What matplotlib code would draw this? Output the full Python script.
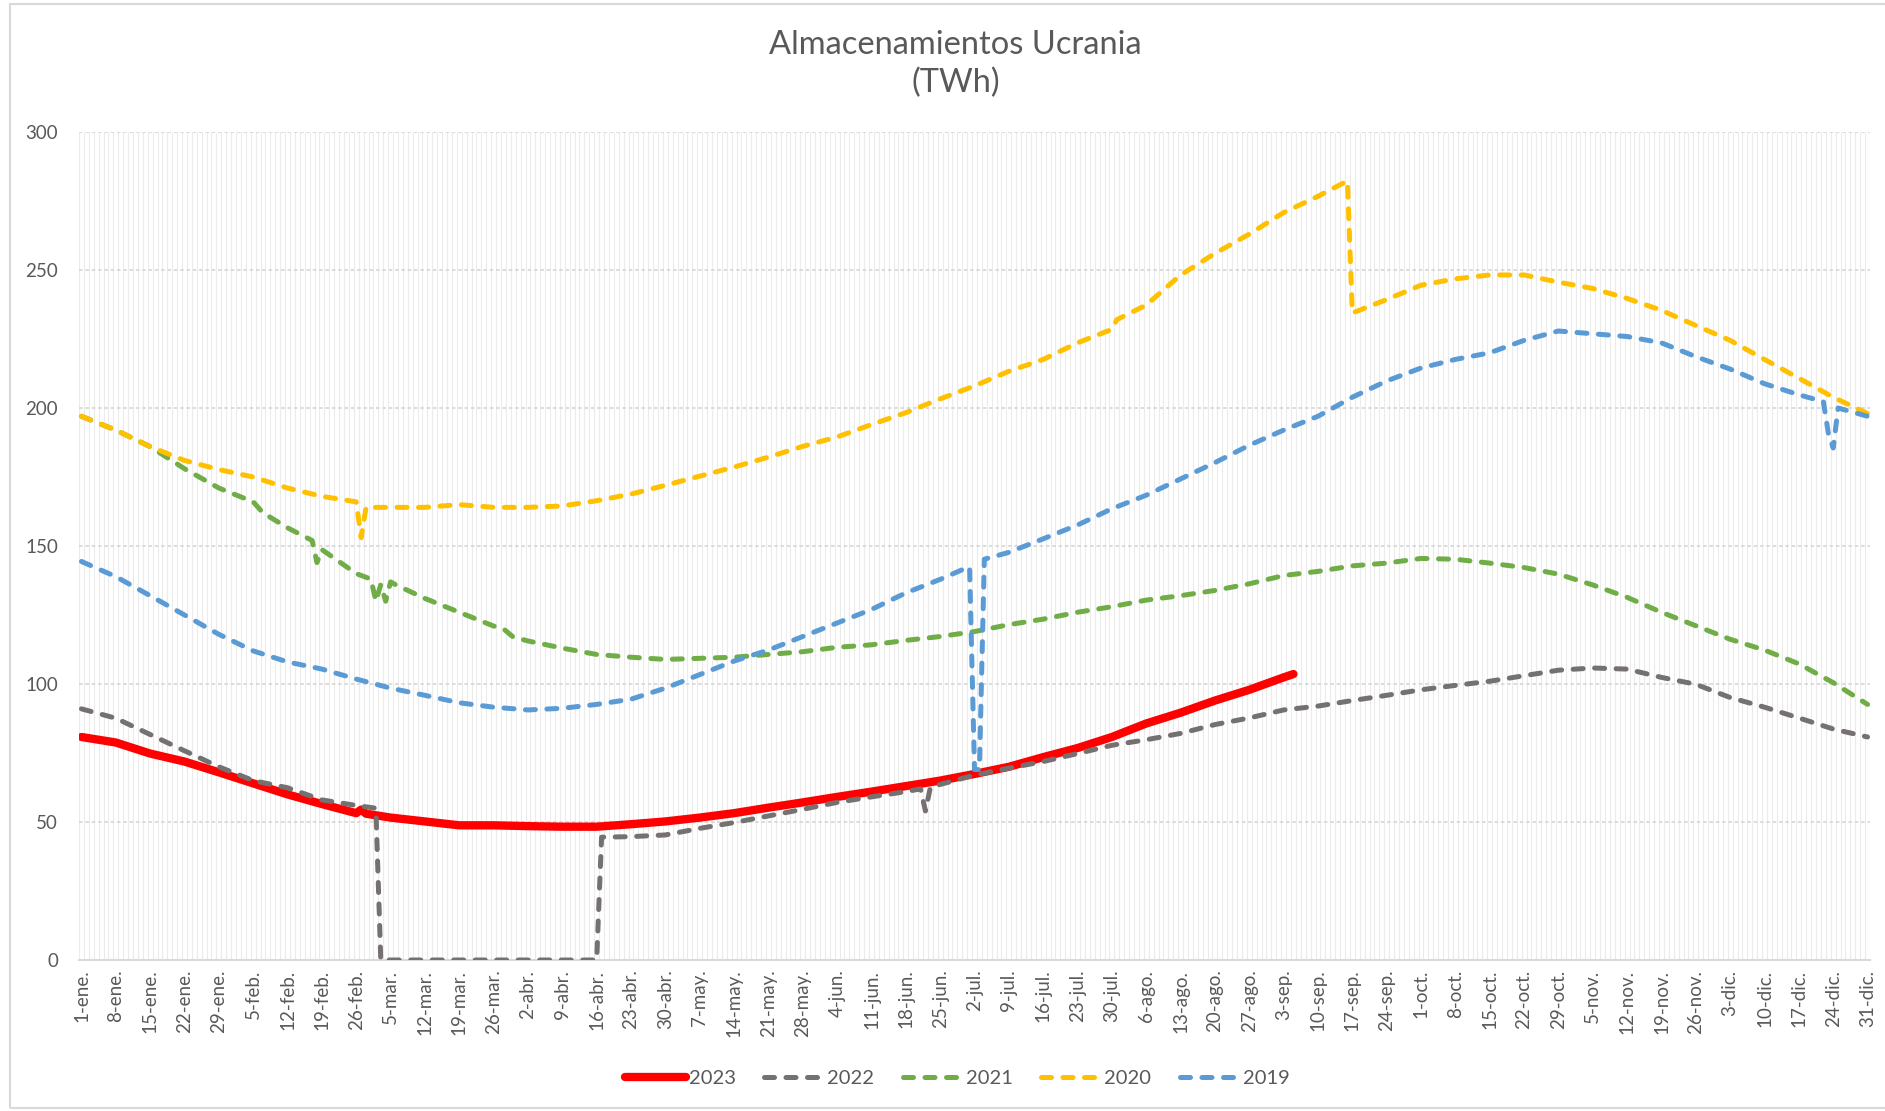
import numpy as np
import matplotlib.pyplot as plt
from matplotlib.patches import Rectangle

plt.rcParams['font.family'] = ['Lato', 'DejaVu Sans']

# x = day of year (0 = 1-ene.), values in TWh
DAYS_2023 = [0, 7, 14, 21, 28, 35, 42, 49, 56, 57, 58, 63, 70, 77, 84, 91, 98, 105, 112, 119,
             126, 133, 140, 147, 154, 161, 168, 175, 182, 189, 196, 203, 210, 217, 224, 231,
             238, 245, 247]
TWH_2023 = [80.8, 78.8, 74.8, 71.9, 68.0, 64.0, 60.0, 56.5, 53.2, 54.5, 53.0, 51.6, 50.2, 48.8,
            48.8, 48.5, 48.3, 48.3, 49.2, 50.2, 51.6, 53.2, 55.2, 57.1, 59.1, 61.0, 63.0, 65.0,
            67.4, 70.0, 73.5, 76.8, 80.8, 85.7, 89.6, 94.0, 97.9, 102.4, 103.6]

DAYS_2022 = [0, 7, 14, 21, 28, 35, 42, 49, 56, 60, 61, 105, 106, 112, 119, 126, 133, 140, 147,
             154, 161, 168, 171, 172, 173, 175, 182, 189, 196, 203, 210, 217, 224, 231, 238,
             245, 252, 259, 266, 273, 280, 287, 294, 301, 308, 315, 322, 329, 336, 343, 350,
             357, 364]
TWH_2022 = [91.0, 87.6, 81.7, 75.8, 70.0, 65.0, 62.4, 58.0, 56.0, 55.0, 0, 0, 44.5, 44.7, 45.3,
            47.7, 49.8, 52.2, 54.6, 57.1, 59.1, 61.0, 62.0, 54.0, 62.5, 63.6, 67.0, 69.5, 71.9,
            74.8, 77.8, 79.8, 82.1, 85.3, 87.7, 90.6, 92.0, 94.0, 95.9, 97.9, 99.5, 101.0,
            103.0, 105.0, 105.8, 105.4, 102.4, 99.9, 95.1, 91.6, 87.7, 83.7, 80.8]

DAYS_2021 = [0, 7, 14, 21, 28, 35, 37, 42, 47, 48, 49, 56, 59, 60, 61, 62, 63, 64, 70, 77, 84,
             86, 88, 91, 98, 105, 112, 119, 126, 133, 140, 147, 154, 161, 168, 175, 182, 189,
             196, 203, 210, 217, 224, 231, 238, 245, 252, 259, 266, 273, 280, 287, 294, 301,
             308, 315, 322, 329, 336, 343, 350, 357, 364]
TWH_2021 = [197.0, 192.0, 186.0, 178.0, 171.0, 166.0, 162.0, 156.6, 152.0, 144.0, 148.7, 140.0,
            138.0, 130.0, 136.0, 130.0, 137.0, 136.0, 131.0, 126.0, 121.0, 120.0, 117.0, 115.6,
            113.0, 110.7, 109.7, 108.9, 109.3, 109.7, 110.7, 111.7, 113.3, 114.2, 115.8, 117.2,
            119.0, 121.5, 123.5, 126.0, 128.0, 130.4, 132.0, 133.9, 136.3, 139.3, 140.8, 142.8,
            143.8, 145.5, 145.2, 143.8, 142.2, 139.8, 135.9, 131.4, 126.0, 121.1, 116.2, 112.3,
            107.3, 100.5, 92.6]

DAYS_2020 = [0, 7, 14, 21, 28, 35, 42, 49, 56, 57, 58, 63, 70, 77, 84, 91, 98, 105, 112, 119,
             126, 133, 140, 147, 154, 161, 168, 175, 182, 189, 196, 203, 210, 211, 217, 224,
             231, 238, 245, 252, 258, 259, 266, 273, 280, 287, 294, 301, 308, 315, 322, 329,
             336, 343, 350, 357, 364]
TWH_2020 = [197.0, 192.0, 186.0, 181.0, 177.7, 175.0, 171.0, 168.0, 166.0, 153.0, 164.0, 164.0,
            164.0, 165.0, 164.0, 164.0, 164.5, 166.4, 168.8, 172.0, 175.3, 178.6, 182.2, 186.1,
            189.5, 194.0, 198.3, 203.3, 208.0, 213.3, 217.6, 223.6, 228.5, 232.0, 237.3, 248.2,
            256.0, 263.0, 270.8, 276.7, 282.3, 234.4, 239.3, 244.5, 246.8, 248.2, 248.2, 245.6,
            243.3, 239.7, 235.4, 229.9, 224.5, 217.6, 210.8, 203.9, 198.0]

DAYS_2019 = [0, 7, 14, 21, 28, 35, 42, 49, 56, 63, 70, 77, 84, 91, 98, 105, 112, 119, 126,
             133, 140, 147, 154, 161, 168, 175, 180, 181, 182, 183, 184, 189, 196, 203, 210,
             217, 224, 231, 238, 245, 252, 259, 266, 273, 280, 287, 294, 301, 308, 315, 322,
             329, 336, 343, 350, 355, 356, 357, 358, 364]
TWH_2019 = [144.4, 138.9, 132.0, 125.0, 118.0, 112.0, 108.0, 105.4, 101.8, 98.5, 95.9, 93.2,
            91.6, 90.6, 91.2, 92.6, 94.5, 98.5, 103.4, 108.3, 112.3, 117.2, 122.1, 127.0, 133.0,
            137.9, 141.8, 142.4, 69.0, 69.0, 145.2, 147.7, 152.6, 157.6, 163.5, 168.4, 174.3,
            180.2, 186.5, 192.0, 197.0, 203.9, 209.8, 214.5, 217.6, 220.0, 224.5, 227.9, 226.9,
            225.9, 223.6, 218.6, 214.1, 208.8, 204.8, 202.3, 191.0, 185.5, 200.0, 197.0]

TICK_LABELS = ["1-ene.", "8-ene.", "15-ene.", "22-ene.", "29-ene.", "5-feb.", "12-feb.",
               "19-feb.", "26-feb.", "5-mar.", "12-mar.", "19-mar.", "26-mar.", "2-abr.",
               "9-abr.", "16-abr.", "23-abr.", "30-abr.", "7-may.", "14-may.", "21-may.",
               "28-may.", "4-jun.", "11-jun.", "18-jun.", "25-jun.", "2-jul.", "9-jul.",
               "16-jul.", "23-jul.", "30-jul.", "6-ago.", "13-ago.", "20-ago.", "27-ago.",
               "3-sep.", "10-sep.", "17-sep.", "24-sep.", "1-oct.", "8-oct.", "15-oct.",
               "22-oct.", "29-oct.", "5-nov.", "12-nov.", "19-nov.", "26-nov.", "3-dic.",
               "10-dic.", "17-dic.", "24-dic.", "31-dic."]
N_DAYS = 365

TXT = "#595959"
GRID = "#D9D9D9"

fig = plt.figure(figsize=(18.85, 11.11), dpi=100)
ax = fig.add_axes([79/1885, 1 - 960/1111, (1870 - 79)/1885, (960 - 132)/1111])

# excel-style daily category gridlines
ax.vlines(np.arange(N_DAYS + 1) - 0.5, 0, 300, color="#EBEBEB", lw=0.75, zorder=0)
ax.set_axisbelow(True)
ax.yaxis.grid(True, color=GRID, linestyle=(0, (2, 1.5)), lw=1.3)

dash = (2.0, 2.3)
ax.plot(DAYS_2023, TWH_2023, color="#FF0000", lw=6, solid_capstyle="round",
        solid_joinstyle="round", label="2023", zorder=3)
series = [(DAYS_2022, TWH_2022, "#767171", "2022"),
          (DAYS_2021, TWH_2021, "#70AD47", "2021"),
          (DAYS_2020, TWH_2020, "#FFC000", "2020"),
          (DAYS_2019, TWH_2019, "#5B9BD5", "2019")]
for i, (d, v, c, lab) in enumerate(series):
    ax.plot(d, v, color=c, lw=3.6, dashes=dash, dash_capstyle="round",
            dash_joinstyle="round", label=lab, zorder=4 + i)

ax.set_xlim(-0.5, N_DAYS - 0.5)
ax.set_ylim(0, 300)
ax.set_yticks(range(0, 301, 50))
ax.set_xticks(range(0, N_DAYS, 7))
ax.set_xticklabels(TICK_LABELS, rotation=90)
ax.tick_params(axis="y", length=0, pad=15, labelsize=13.5, labelcolor=TXT)
ax.tick_params(axis="x", length=0, pad=7, labelsize=13.5, labelcolor=TXT)
for s in ["top", "right", "left"]:
    ax.spines[s].set_visible(False)
ax.spines["bottom"].set_color(GRID)
ax.spines["bottom"].set_linewidth(1.5)

fig.text(0.507, 1 - 64/1111, "Almacenamientos Ucrania\n(TWh)", ha="center", va="center",
         fontsize=23.5, color=TXT, linespacing=1.3)

leg = fig.legend(loc="center", bbox_to_anchor=(0.508, 1 - 1078/1111), ncol=5, frameon=False,
                 fontsize=14.5, handlelength=3.0, handletextpad=0.15, columnspacing=1.4,
                 labelcolor=TXT)

fig.patches.append(Rectangle((10/1885, 3/1111), 1.0, 1 - 7/1111, fill=False,
                             edgecolor=GRID, lw=1.5, transform=fig.transFigure))

fig.savefig("out.png", dpi=100, facecolor="white")
